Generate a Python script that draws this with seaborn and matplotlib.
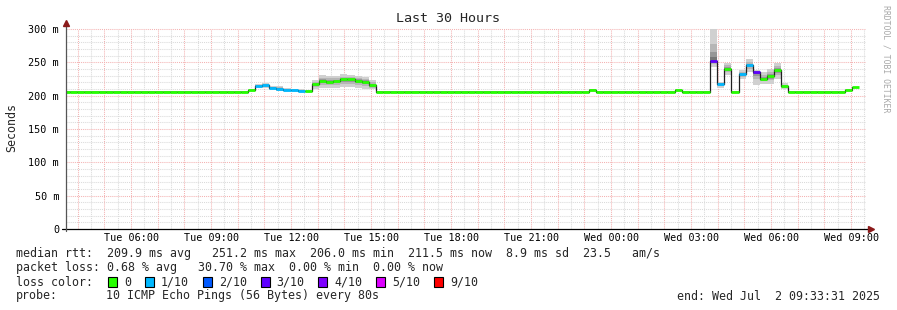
import numpy as np
import pandas as pd
import matplotlib
matplotlib.use("Agg")
import matplotlib.pyplot as plt
from matplotlib.patches import Rectangle
import seaborn as sns

# ---------------- data ----------------
step_start_hour = 3.446          # first 16-minute consolidated step starts (hours after Tue 00:00)
step_minutes = 16
view_start_hour = 3.5586         # Tue 03:33:31
view_span_hours = 30

median_ms = [
    206.0, 206.0, 206.0, 206.0, 206.0, 206.0, 206.0, 206.0, 206.0, 206.0,
    206.0, 206.0, 206.0, 206.0, 206.0, 206.0, 206.0, 206.0, 206.0, 206.0,
    206.0, 206.0, 206.0, 206.0, 206.0, 206.0, 208.5, 214.5, 215.5, 211.5,
    210.5, 208.5, 208.0, 207.5, 206.5, 217.0, 222.5, 221.0, 221.5, 224.5,
    224.5, 222.0, 220.5, 215.5, 206.0, 206.0, 206.0, 206.0, 206.0, 206.0,
    206.0, 206.0, 206.0, 206.0, 206.0, 206.0, 206.0, 206.0, 206.0, 206.0,
    206.0, 206.0, 206.0, 206.0, 206.0, 206.0, 206.0, 206.0, 206.0, 206.0,
    206.0, 206.0, 206.0, 206.0, 209.0, 206.0, 206.0, 206.0, 206.0, 206.0,
    206.0, 206.0, 206.0, 206.0, 206.0, 206.0, 208.5, 206.0, 206.0, 206.0,
    206.0, 251.5, 217.5, 240.5, 206.0, 232.0, 245.5, 235.5, 225.5, 229.0,
    238.0, 214.0, 206.0, 206.0, 206.0, 206.0, 206.0, 206.0, 206.0, 206.0,
    208.5, 213.0, np.nan,
]

loss_tenths = [
    0, 0, 0, 0, 0, 0, 0, 0, 0, 0,
    0, 0, 0, 0, 0, 0, 0, 0, 0, 0,
    0, 0, 0, 0, 0, 0, 0, 1, 1, 1,
    1, 1, 1, 1, 0, 0, 0, 0, 0, 0,
    0, 0, 0, 0, 0, 0, 0, 0, 0, 0,
    0, 0, 0, 0, 0, 0, 0, 0, 0, 0,
    0, 0, 0, 0, 0, 0, 0, 0, 0, 0,
    0, 0, 0, 0, 0, 0, 0, 0, 0, 0,
    0, 0, 0, 0, 0, 0, 0, 0, 0, 0,
    0, 3, 1, 0, 0, 1, 1, 3, 0, 0,
    0, 0, 0, 0, 0, 0, 0, 0, 0, 0,
    0, 0, 0,
]

smoke_lo_ms = [
    205.5, 205.5, 205.5, 205.5, 205.5, 205.5, 205.5, 205.5, 205.5, 205.5,
    205.5, 205.5, 205.5, 205.5, 205.5, 205.5, 205.5, 205.5, 205.5, 205.5,
    205.5, 205.5, 205.5, 205.5, 205.5, 205.5, 207.0, 211.0, 211.5, 208.5,
    207.5, 206.5, 206.0, 206.0, 205.5, 210.0, 211.0, 211.5, 212.0, 213.0,
    212.5, 212.0, 210.5, 209.5, 205.5, 205.5, 205.5, 205.5, 205.5, 205.5,
    205.5, 205.5, 205.5, 205.5, 205.5, 205.5, 205.5, 205.5, 205.5, 205.5,
    205.5, 205.5, 205.5, 205.5, 205.5, 205.5, 205.5, 205.5, 205.5, 205.5,
    205.5, 205.5, 205.5, 205.5, 207.5, 205.5, 205.5, 205.5, 205.5, 205.5,
    205.5, 205.5, 205.5, 205.5, 205.5, 205.5, 207.0, 205.5, 205.5, 205.5,
    205.5, 243.0, 211.5, 230.5, 205.5, 225.5, 235.5, 216.5, 218.0, 218.0,
    224.5, 210.5, 205.5, 205.5, 205.5, 205.5, 205.5, 205.5, 205.5, 205.5,
    207.0, 211.0, np.nan,
]

smoke_hi_ms = [
    207.0, 207.0, 207.0, 207.0, 207.0, 207.0, 207.0, 207.0, 207.0, 207.0,
    207.0, 207.0, 207.0, 207.0, 207.0, 207.0, 207.0, 207.0, 207.0, 207.0,
    207.0, 207.0, 207.0, 207.0, 207.0, 207.0, 210.5, 217.5, 219.0, 215.0,
    214.5, 211.5, 210.5, 209.5, 208.0, 223.0, 231.0, 230.0, 229.5, 232.0,
    231.5, 230.0, 228.5, 223.5, 207.0, 207.0, 207.0, 207.0, 207.0, 207.0,
    207.0, 207.0, 207.0, 207.0, 207.0, 207.0, 207.0, 207.0, 207.0, 207.0,
    207.0, 207.0, 207.0, 207.0, 207.0, 207.0, 207.0, 207.0, 207.0, 207.0,
    207.0, 207.0, 207.0, 207.0, 210.5, 207.0, 207.0, 207.0, 207.0, 207.0,
    207.0, 207.0, 207.0, 207.0, 207.0, 207.0, 210.5, 207.0, 207.0, 207.0,
    207.0, 300.0, 220.5, 249.5, 207.0, 238.5, 254.5, 238.5, 236.0, 239.5,
    249.5, 218.5, 207.0, 207.0, 207.0, 207.0, 207.0, 207.0, 207.0, 207.0,
    210.0, 216.5, np.nan,
]

tick_hours = [6, 9, 12, 15, 18, 21, 24, 27, 30, 33]
tick_labels = ["Tue 06:00", "Tue 09:00", "Tue 12:00", "Tue 15:00", "Tue 18:00",
               "Tue 21:00", "Wed 00:00", "Wed 03:00", "Wed 06:00", "Wed 09:00"]
ytick_values = [0, 50, 100, 150, 200, 250, 300]
ytick_labels = ["0", "50 m", "100 m", "150 m", "200 m", "250 m", "300 m"]

loss_levels = [0, 1, 2, 3, 4, 5, 9]
loss_labels = ["0", "1/10", "2/10", "3/10", "4/10", "5/10", "9/10"]
loss_colors = ["#26ff00", "#00b8ff", "#0059ff", "#5e00ff", "#7e00ff", "#dd00ff", "#ff0000"]

title = "Last 30 Hours"
ylabel = "Seconds"
stat_rtt = "median rtt:  209.9 ms avg   251.2 ms max  206.0 ms min  211.5 ms now  8.9 ms sd  23.5   am/s"
stat_loss = "packet loss: 0.68 % avg   30.70 % max  0.00 % min  0.00 % now"
loss_head = "loss color:"
probe_head = "probe:"
probe_text = "10 ICMP Echo Pings (56 Bytes) every 80s"
end_text = "end: Wed Jul  2 09:33:31 2025"
watermark = "RRDTOOL / TOBI OETIKER"

# ---------------- figure ----------------
sns.set_theme(style="white")
plt.rcParams["font.family"] = ["DejaVu Sans Mono"]

W, H = 897, 310
fig = plt.figure(figsize=(W / 100, H / 100), dpi=100)
fig.patch.set_facecolor("white")
ax = fig.add_axes([66 / W, 1 - 229 / H, 800 / W, 200 / H])
ax.set_facecolor("white")

view_end = view_start_hour + view_span_hours
ax.set_xlim(view_start_hour, view_end)
ax.set_ylim(0, 300)

# grid
minor_col, major_col = "#dadada", "#f4b2b2"
dot = (0, (1, 1))
halfs = np.arange(np.ceil(view_start_hour * 2) / 2, view_end + 1e-9, 0.5)
hrs_minor = [h for h in halfs if abs(h - round(h)) > 1e-6]
hrs_major = [h for h in halfs if abs(h - round(h)) <= 1e-6]
ax.vlines(hrs_minor, 0, 300, colors=minor_col, linestyles=dot, lw=0.75, zorder=0.5)
ax.hlines([v for v in range(10, 301, 10) if v % 50], view_start_hour, view_end,
          colors=minor_col, linestyles=dot, lw=0.75, zorder=0.5)
ax.vlines(hrs_major, 0, 300, colors=major_col, linestyles=dot, lw=0.75, zorder=0.6)
ax.hlines([v for v in range(50, 301, 50)], view_start_hour, view_end,
          colors=major_col, linestyles=dot, lw=0.75, zorder=0.6, clip_on=False)

# data frame of steps
n = len(median_ms)
step_h = step_minutes / 60.0
edges = step_start_hour + np.arange(n + 1) * step_h
df = pd.DataFrame({
    "start": edges[:-1], "end": edges[1:],
    "median": np.array(median_ms, float),
    "lo": np.array(smoke_lo_ms, float),
    "hi": np.array(smoke_hi_ms, float),
    "loss": loss_tenths,
})

# smoke
layers = [(1.0, "#d0d0d0"), (0.55, "#b6b6b6"), (0.3, "#979797"), (0.12, "#767676")]
for f, col in layers:
    lo = df["median"] - f * (df["median"] - df["lo"])
    hi = df["median"] + f * (df["hi"] - df["median"])
    ax.fill_between(edges, np.append(lo, lo.iloc[-1]), np.append(hi, hi.iloc[-1]),
                    step="post", color=col, lw=0, zorder=1)

# dark median line (steps)
line_df = pd.DataFrame({"t": edges, "ms": np.append(df["median"], df["median"].iloc[-1])})
sns.lineplot(data=line_df, x="t", y="ms", drawstyle="steps-post", color="#202020",
             lw=0.9, ax=ax, zorder=2, legend=False)

# loss-coloured median segments
cmap = dict(zip(loss_levels, loss_colors))
ax.hlines(df["median"], df["start"], df["end"], colors=[cmap[l] for l in df["loss"]],
          lw=2.0, zorder=3, capstyle="butt")

ax.set_xlim(view_start_hour, view_end)
ax.set_ylim(0, 300)
for s in ax.spines.values():
    s.set_visible(False)

ax.set_xticks(tick_hours, tick_labels)
ax.set_yticks(ytick_values, ytick_labels)
ax.tick_params(axis="both", length=0, labelsize=7.3, colors="black")
ax.tick_params(axis="x", pad=3)
ax.tick_params(axis="y", pad=5)
ax.set_xlabel("")
ax.set_ylabel("")

# axes lines + arrows
ax.plot([-4 / 800, 1 + 3 / 800], [0, 0], transform=ax.transAxes, color="black",
        lw=0.9, clip_on=False, zorder=5)
ax.plot([0, 0], [-2 / 200, 1 + 5 / 200], transform=ax.transAxes, color="#555555",
        lw=0.9, clip_on=False, zorder=5)
ax.plot([1 + 5 / 800], [0], transform=ax.transAxes, marker=">", ms=4.5,
        color="#8b1a1a", clip_on=False, zorder=6)
ax.plot([0], [1 + 6 / 200], transform=ax.transAxes, marker="^", ms=4.5,
        color="#8b1a1a", clip_on=False, zorder=6)

# titles
fig.text(448 / W, 1 - 19 / H, title, ha="center", va="center", fontsize=9.6)
fig.text(12 / W, 1 - 128 / H, ylabel, rotation=90, ha="center", va="center", fontsize=8.4)
fig.text(886 / W, 1 - 5 / H, watermark, rotation=270, ha="center", va="top",
         fontsize=5.9, color="#a8a8a8")

# legend / stats
fs = 8.4
cw = 6.95
x0 = 16
fig.text(x0 / W, 1 - 254 / H, stat_rtt, ha="left", va="center", fontsize=fs)
fig.text(x0 / W, 1 - 268 / H, stat_loss, ha="left", va="center", fontsize=fs)
fig.text(x0 / W, 1 - 282 / H, loss_head, ha="left", va="center", fontsize=fs)
fig.text(x0 / W, 1 - 296 / H, probe_head, ha="left", va="center", fontsize=fs)
fig.text((x0 + 13 * cw) / W, 1 - 296 / H, probe_text, ha="left", va="center", fontsize=fs)
fig.text(880 / W, 1 - 296 / H, end_text, ha="right", va="center", fontsize=fs)

bx = 108.0
for lab, col in zip(loss_labels, loss_colors):
    fig.patches.append(Rectangle((bx / W, 1 - 287 / H), 9 / W, 10 / H, transform=fig.transFigure,
                                 facecolor=col, edgecolor="black", lw=0.8))
    fig.text((bx + 16) / W, 1 - 282 / H, lab, ha="left", va="center", fontsize=fs)
    bx += 30 + cw * len(lab)

fig.savefig("out.png", dpi=100, facecolor="white")
